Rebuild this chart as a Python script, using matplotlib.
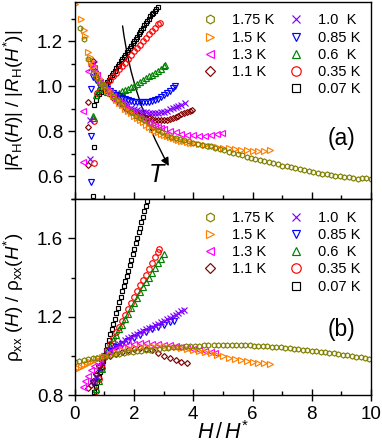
import matplotlib
matplotlib.use("Agg")
import matplotlib.pyplot as plt
from matplotlib.patches import FancyArrowPatch
from matplotlib.ticker import MultipleLocator

plt.rcParams['font.family'] = ['Liberation Sans', 'DejaVu Sans']
plt.rcParams['mathtext.fontset'] = 'custom'
plt.rcParams['mathtext.rm'] = 'Liberation Sans'
plt.rcParams['mathtext.it'] = 'Liberation Sans:italic'
plt.rcParams['mathtext.bf'] = 'Liberation Sans:bold'

# temperature labels (legend order)
temps = ['1.75 K', '1.5 K', '1.3 K', '1.1 K', '1.0  K', '0.85 K', '0.6  K', '0.35 K', '0.07 K']

# ---- panel (a): |R_H(H)| / |R_H(H*)| ----
a_175_x = [0.17, 0.3, 0.45, 0.6, 0.7, 0.8, 0.9, 1.0, 1.15, 1.3, 1.45, 1.6, 1.75, 1.9, 2.05, 2.2, 2.35, 2.5,
           2.65, 2.8, 2.95, 3.1, 3.25, 3.4, 3.55, 3.7, 3.85, 4.0, 4.15, 4.3, 4.45, 4.6, 4.75, 4.9, 5.05, 5.2,
           5.35, 5.5, 5.65, 5.8, 5.95, 6.1, 6.25, 6.4, 6.55, 6.7, 6.85, 7.0, 7.15, 7.3, 7.45, 7.6, 7.75, 7.9,
           8.05, 8.2, 8.35, 8.5, 8.65, 8.8, 8.95, 9.1, 9.25, 9.4, 9.55, 9.7, 9.85, 10.0]
a_175_y = [1.26, 1.21, 1.12, 1.06, 1.04, 1.02, 1.01, 1.0, 0.98, 0.955, 0.94, 0.92, 0.9, 0.885, 0.87, 0.86, 0.85, 0.835,
           0.82, 0.805, 0.795, 0.785, 0.775, 0.77, 0.765, 0.76, 0.755, 0.75, 0.745, 0.74, 0.737, 0.733, 0.728, 0.722, 0.716, 0.71,
           0.705, 0.70, 0.695, 0.688, 0.682, 0.677, 0.672, 0.667, 0.663, 0.658, 0.653, 0.648, 0.644, 0.64, 0.636, 0.632, 0.628, 0.624,
           0.62, 0.616, 0.612, 0.609, 0.606, 0.603, 0.60, 0.598, 0.596, 0.594, 0.59, 0.593, 0.592, 0.59]

a_15_x = [0.0, 0.22, 0.3, 0.35, 0.45, 0.5, 0.55, 0.6, 0.7, 0.8, 0.9, 1.0, 1.1, 1.2, 1.3, 1.4, 1.5, 1.6, 1.7, 1.8,
          1.9, 2.0, 2.1, 2.2, 2.3, 2.4, 2.5, 2.6, 2.7, 2.8, 2.9, 3.0, 3.1, 3.2, 3.3, 3.4, 3.5, 3.6, 3.7, 3.8,
          3.9, 4.0, 4.2, 4.4, 4.6, 4.8, 5.0, 5.2, 5.4, 5.6, 5.8, 6.0, 6.2, 6.4, 6.6]
a_15_y = [1.365, 1.30, 1.25, 1.225, 1.15, 1.13, 1.11, 1.09, 1.06, 1.035, 1.015, 1.0, 0.985, 0.97, 0.955, 0.94, 0.925, 0.915, 0.90, 0.89,
          0.88, 0.87, 0.86, 0.85, 0.84, 0.83, 0.82, 0.81, 0.80, 0.795, 0.79, 0.785, 0.78, 0.775, 0.77, 0.765, 0.762, 0.758, 0.755, 0.752,
          0.75, 0.748, 0.744, 0.74, 0.736, 0.732, 0.728, 0.724, 0.72, 0.718, 0.716, 0.714, 0.712, 0.713, 0.716]

a_13_x = [0.27, 0.27, 0.45, 0.55, 0.65, 0.75, 0.85, 1.0, 1.1, 1.2, 1.3, 1.4, 1.5, 1.6, 1.7, 1.8, 1.9, 2.0, 2.1, 2.2,
          2.3, 2.4, 2.5, 2.6, 2.7, 2.8, 2.9, 3.0, 3.2, 3.4, 3.6, 3.8, 4.0, 4.2, 4.4, 4.6, 4.8, 4.97]
a_13_y = [0.665, 0.89, 1.07, 1.10, 1.08, 1.05, 1.02, 1.0, 0.985, 0.97, 0.955, 0.94, 0.93, 0.92, 0.905, 0.895, 0.885, 0.875, 0.865, 0.86,
          0.85, 0.845, 0.835, 0.83, 0.825, 0.82, 0.815, 0.81, 0.80, 0.795, 0.79, 0.785, 0.782, 0.78, 0.78, 0.782, 0.786, 0.792]

a_11_x = [0.45, 0.45, 0.44, 0.6, 0.68, 0.75, 0.85, 1.0, 1.1, 1.2, 1.3, 1.4, 1.5, 1.6, 1.7, 1.8, 1.9, 2.0, 2.1, 2.2,
          2.3, 2.4, 2.5, 2.6, 2.7, 2.8, 2.9, 3.0, 3.1, 3.2, 3.3, 3.4, 3.5, 3.6, 3.7, 3.8, 3.9, 3.95]
a_11_y = [0.65, 0.82, 0.93, 1.11, 1.07, 1.04, 1.02, 1.0, 0.98, 0.965, 0.95, 0.94, 0.925, 0.915, 0.905, 0.895, 0.885, 0.88, 0.875, 0.87,
          0.865, 0.86, 0.857, 0.855, 0.852, 0.85, 0.85, 0.85, 0.852, 0.855, 0.86, 0.865, 0.87, 0.875, 0.88, 0.885, 0.89, 0.893]

a_10_x = [0.5, 0.5, 0.55, 0.65, 0.75, 0.85, 1.0, 1.1, 1.2, 1.3, 1.4, 1.5, 1.6, 1.7, 1.8, 1.9, 2.0, 2.1, 2.2, 2.3,
          2.4, 2.5, 2.6, 2.7, 2.8, 2.9, 3.0, 3.1, 3.2, 3.3, 3.4, 3.5, 3.6, 3.72]
a_10_y = [0.675, 0.85, 1.08, 1.10, 1.05, 1.02, 1.0, 0.985, 0.97, 0.96, 0.95, 0.94, 0.93, 0.92, 0.915, 0.905, 0.90, 0.895, 0.89, 0.887,
          0.885, 0.882, 0.88, 0.88, 0.882, 0.885, 0.888, 0.892, 0.897, 0.902, 0.907, 0.912, 0.918, 0.925]

a_085_x = [0.54, 0.54, 0.55, 0.6, 0.7, 0.8, 0.9, 1.0, 1.1, 1.2, 1.3, 1.4, 1.5, 1.6, 1.7, 1.8, 1.9, 2.0, 2.1, 2.2,
           2.3, 2.4, 2.5, 2.6, 2.7, 2.8, 2.9, 3.0, 3.1, 3.2, 3.3, 3.37]
a_085_y = [0.575, 0.78, 0.99, 1.04, 1.03, 1.01, 1.0, 1.0, 0.99, 0.98, 0.97, 0.962, 0.955, 0.95, 0.945, 0.94, 0.935, 0.932, 0.93, 0.93,
           0.93, 0.93, 0.932, 0.935, 0.94, 0.945, 0.952, 0.96, 0.97, 0.98, 0.992, 1.0]

a_06_x = [0.6, 0.62, 0.7, 0.8, 0.9, 1.0, 1.1, 1.2, 1.3, 1.4, 1.5, 1.6, 1.7, 1.8, 1.9, 2.0, 2.1, 2.2, 2.3, 2.4,
          2.5, 2.6, 2.7, 2.8, 2.9, 3.0, 3.04]
a_06_y = [0.86, 0.87, 0.96, 0.99, 1.0, 1.0, 0.975, 0.968, 0.965, 0.967, 0.972, 0.978, 0.985, 0.99, 0.995, 1.002, 1.01, 1.018, 1.026, 1.035,
          1.045, 1.052, 1.06, 1.068, 1.078, 1.09, 1.095]

a_035_x = [0.63, 0.63, 0.75, 0.85, 1.0, 1.1, 1.2, 1.3, 1.4, 1.5, 1.6, 1.7, 1.8, 1.9, 2.0, 2.1, 2.2, 2.3, 2.4, 2.5,
           2.6, 2.7, 2.8, 2.87]
a_035_y = [0.66, 0.845, 0.97, 0.99, 1.0, 1.01, 1.03, 1.045, 1.06, 1.075, 1.09, 1.105, 1.12, 1.14, 1.155, 1.17, 1.185, 1.20, 1.215, 1.23,
           1.245, 1.26, 1.275, 1.28]

a_007_x = [0.61, 0.64, 0.64, 0.7, 0.76, 0.82, 0.88, 0.94, 1.0, 1.05, 1.1, 1.15, 1.2, 1.25, 1.3, 1.35, 1.4, 1.45, 1.5, 1.55,
           1.6, 1.65, 1.7, 1.75, 1.8, 1.85, 1.9, 1.95, 2.0, 2.05, 2.1, 2.15, 2.2, 2.25, 2.3, 2.35, 2.4, 2.45, 2.5, 2.55,
           2.6, 2.65, 2.7, 2.75, 2.8]
a_007_y = [0.515, 0.73, 0.915, 0.94, 0.955, 0.965, 0.975, 0.99, 1.0, 1.01, 1.02, 1.03, 1.04, 1.05, 1.06, 1.07, 1.08, 1.09, 1.10, 1.11,
           1.12, 1.13, 1.14, 1.15, 1.16, 1.17, 1.18, 1.19, 1.20, 1.21, 1.22, 1.23, 1.24, 1.25, 1.26, 1.27, 1.28, 1.29, 1.30, 1.31,
           1.32, 1.327, 1.335, 1.342, 1.35]

# ---- panel (b): rho_xx(H) / rho_xx(H*) ----
b_175_x = [0.0, 0.15, 0.3, 0.45, 0.6, 0.75, 0.9, 1.05, 1.2, 1.35, 1.5, 1.65, 1.8, 1.95, 2.1, 2.25, 2.4, 2.55, 2.7, 2.85,
           3.0, 3.15, 3.3, 3.45, 3.6, 3.75, 3.9, 4.05, 4.2, 4.35, 4.5, 4.7, 4.85, 5.0, 5.15, 5.3, 5.45, 5.6, 5.75, 5.9,
           6.05, 6.2, 6.35, 6.5, 6.65, 6.8, 6.95, 7.1, 7.25, 7.4, 7.55, 7.7, 7.85, 8.0, 8.15, 8.3, 8.45, 8.6, 8.75, 8.9,
           9.05, 9.2, 9.35, 9.5, 9.65, 9.8, 9.95]
b_175_y = [0.97, 0.975, 0.98, 0.984, 0.988, 0.992, 0.996, 1.001, 1.005, 1.009, 1.012, 1.015, 1.018, 1.021, 1.024, 1.027, 1.03, 1.032, 1.035, 1.037,
           1.04, 1.042, 1.044, 1.046, 1.048, 1.05, 1.051, 1.052, 1.053, 1.054, 1.055, 1.056, 1.057, 1.057, 1.057, 1.057, 1.057, 1.056, 1.055, 1.054,
           1.053, 1.052, 1.051, 1.05, 1.048, 1.046, 1.044, 1.042, 1.039, 1.037, 1.035, 1.032, 1.03, 1.027, 1.025, 1.022, 1.019, 1.016, 1.013, 1.01,
           1.007, 1.004, 1.0, 0.997, 0.993, 0.989, 0.986]

b_15_x = [0.0, 0.1, 0.2, 0.3, 0.4, 0.5, 0.6, 0.7, 0.8, 0.9, 1.0, 1.2, 1.4, 1.6, 1.8, 2.0, 2.2, 2.4, 2.6, 2.8,
          3.0, 3.2, 3.4, 3.6, 3.8, 4.0, 4.2, 4.4, 4.6, 4.8, 5.0, 5.2, 5.4, 5.6, 5.8, 6.0, 6.2, 6.4, 6.6]
b_15_y = [0.93, 0.937, 0.945, 0.952, 0.96, 0.967, 0.975, 0.982, 0.99, 0.995, 1.0, 1.01, 1.02, 1.028, 1.035, 1.04, 1.045, 1.048, 1.05, 1.05,
          1.05, 1.048, 1.045, 1.04, 1.035, 1.03, 1.025, 1.02, 1.013, 1.005, 0.998, 0.992, 0.986, 0.98, 0.975, 0.97, 0.966, 0.963, 0.96]

b_13_x = [0.27, 0.35, 0.45, 0.55, 0.65, 0.75, 0.85, 1.0, 1.2, 1.4, 1.6, 1.8, 2.0, 2.2, 2.4, 2.6, 2.8, 3.0, 3.2, 3.4,
          3.6, 3.8, 4.0, 4.2, 4.4, 4.6, 4.73]
b_13_y = [0.84, 0.87, 0.90, 0.93, 0.95, 0.97, 0.985, 1.0, 1.02, 1.035, 1.045, 1.055, 1.06, 1.065, 1.065, 1.063, 1.06, 1.057, 1.055, 1.05,
          1.045, 1.04, 1.035, 1.03, 1.025, 1.02, 1.015]

b_11_x = [0.45, 0.55, 0.6, 0.7, 0.8, 0.9, 1.0, 1.2, 1.4, 1.6, 1.8, 2.0, 2.2, 2.4, 2.6, 2.8, 3.0, 3.2, 3.4, 3.6,
          3.8]
b_11_y = [0.835, 0.85, 0.87, 0.91, 0.95, 0.975, 0.99, 1.0, 1.01, 1.02, 1.03, 1.035, 1.04, 1.035, 1.03, 1.015, 1.0, 0.99, 0.98, 0.97,
          0.963]

b_10_x = [0.6, 0.7, 0.8, 0.9, 1.0, 1.1, 1.2, 1.3, 1.4, 1.5, 1.6, 1.7, 1.8, 1.9, 2.0, 2.1, 2.2, 2.3, 2.4, 2.5,
          2.6, 2.7, 2.8, 2.9, 3.0, 3.1, 3.2, 3.3, 3.4, 3.5, 3.6, 3.7]
b_10_y = [0.87, 0.9, 0.94, 0.97, 1.0, 1.015, 1.03, 1.04, 1.05, 1.06, 1.07, 1.08, 1.09, 1.097, 1.105, 1.112, 1.12, 1.127, 1.135, 1.142,
          1.15, 1.157, 1.165, 1.172, 1.18, 1.187, 1.195, 1.202, 1.21, 1.219, 1.228, 1.235]

b_085_x = [0.6, 0.7, 0.8, 0.9, 1.0, 1.2, 1.4, 1.6, 1.8, 2.0, 2.2, 2.4, 2.6, 2.8, 3.0, 3.2, 3.35]
b_085_y = [0.86, 0.9, 0.94, 0.97, 1.0, 1.025, 1.045, 1.062, 1.078, 1.092, 1.105, 1.12, 1.135, 1.148, 1.16, 1.172, 1.18]

b_06_x = [0.7, 0.8, 0.9, 1.0, 1.1, 1.2, 1.3, 1.4, 1.5, 1.6, 1.7, 1.8, 1.9, 2.0, 2.1, 2.2, 2.3, 2.4, 2.5, 2.6,
          2.7, 2.8, 2.9, 3.0]
b_06_y = [0.83, 0.87, 0.935, 1.0, 1.025, 1.05, 1.08, 1.105, 1.135, 1.16, 1.19, 1.215, 1.245, 1.27, 1.297, 1.324, 1.35, 1.376, 1.40, 1.425,
          1.45, 1.473, 1.497, 1.52]

b_035_x = [0.7, 0.8, 0.9, 1.0, 1.1, 1.2, 1.3, 1.4, 1.5, 1.6, 1.7, 1.8, 1.9, 2.0, 2.1, 2.2, 2.3, 2.4, 2.5, 2.6,
           2.7, 2.8, 2.85]
b_035_y = [0.82, 0.88, 0.94, 1.0, 1.03, 1.06, 1.09, 1.12, 1.15, 1.18, 1.21, 1.24, 1.27, 1.30, 1.33, 1.36, 1.385, 1.415, 1.445, 1.475,
           1.505, 1.53, 1.545]

b_007_x = [0.65, 0.7, 0.75, 0.8, 0.85, 0.9, 0.95, 1.0, 1.05, 1.1, 1.15, 1.2, 1.25, 1.3, 1.35, 1.4, 1.45, 1.5, 1.55, 1.6,
           1.65, 1.7, 1.75, 1.8, 1.85, 1.9, 1.95, 2.0, 2.05, 2.1, 2.15, 2.2, 2.25, 2.3, 2.35, 2.4, 2.45, 2.5]
b_007_y = [0.815, 0.84, 0.865, 0.89, 0.92, 0.945, 0.975, 1.0, 1.03, 1.055, 1.08, 1.11, 1.135, 1.165, 1.19, 1.22, 1.245, 1.275, 1.30, 1.33,
           1.355, 1.38, 1.41, 1.435, 1.465, 1.49, 1.52, 1.545, 1.575, 1.60, 1.63, 1.655, 1.685, 1.71, 1.74, 1.765, 1.79, 1.82]

colors = ['#808000', '#FF8000', '#FF00FF', '#800000', '#8000FF', '#0000FF', '#008000', '#FF0000', '#000000']
markers = ['h', '>', '<', 'D', 'x', 'v', '^', 'o', 's']
sizes = [3.7, 3.7, 3.7, 3.0, 3.7, 3.7, 3.7, 4.0, 3.4]

series_a = [(a_175_x, a_175_y), (a_15_x, a_15_y), (a_13_x, a_13_y), (a_11_x, a_11_y), (a_10_x, a_10_y),
            (a_085_x, a_085_y), (a_06_x, a_06_y), (a_035_x, a_035_y), (a_007_x, a_007_y)]
series_b = [(b_175_x, b_175_y), (b_15_x, b_15_y), (b_13_x, b_13_y), (b_11_x, b_11_y), (b_10_x, b_10_y),
            (b_085_x, b_085_y), (b_06_x, b_06_y), (b_035_x, b_035_y), (b_007_x, b_007_y)]


def draw_panel(ax, series):
    handles = [None] * len(series)
    # coldest first, so the high temperature data end up on top
    for i in reversed(range(len(series))):
        x, y = series[i]
        h, = ax.plot(x, y, linestyle='none', marker=markers[i], markersize=sizes[i],
                     markerfacecolor='none', markeredgecolor=colors[i], markeredgewidth=0.85,
                     color=colors[i], label=temps[i])
        handles[i] = h
    # blank entry so the first legend column holds 4 rows
    blank, = ax.plot([], [], linestyle='none', marker='none', label=' ')
    hh = handles[:4] + [blank] + handles[4:]
    ax.legend(handles=hh, labels=[h.get_label() for h in hh], ncol=2, frameon=False,
              loc='upper right', bbox_to_anchor=(0.995, 0.985), fontsize=10.5,
              handlelength=1.0, handletextpad=1.0, columnspacing=1.0, labelspacing=0.22,
              markerscale=1.7, borderaxespad=0.2)
    ax.set_xlim(0, 10)
    ax.xaxis.set_major_locator(MultipleLocator(2))
    ax.xaxis.set_minor_locator(MultipleLocator(1))
    for s in ax.spines.values():
        s.set_linewidth(1.0)
    ax.tick_params(axis='y', which='major', direction='out', length=5, width=1, labelsize=13.5)
    ax.tick_params(axis='y', which='minor', direction='out', length=3, width=1)
    ax.tick_params(axis='x', which='major', width=1, labelsize=13.5)


fig = plt.figure(figsize=(3.82, 4.48), dpi=100)
ax_a = fig.add_axes([0.196, 0.556, 0.775, 0.44])
ax_b = fig.add_axes([0.196, 0.118, 0.775, 0.4375])

draw_panel(ax_a, series_a)
ax_a.set_ylim(0.5, 1.375)
ax_a.yaxis.set_major_locator(MultipleLocator(0.2))
ax_a.yaxis.set_minor_locator(MultipleLocator(0.1))
ax_a.tick_params(axis='x', which='major', direction='in', length=5, labelbottom=False)
ax_a.tick_params(axis='x', which='minor', direction='in', length=3, width=1)
ax_a.set_ylabel(r'$|R_{\rm H}(H)|\ /\ |R_{\rm H}(H^{*})|$', fontsize=13.5)
ax_a.yaxis.set_label_coords(-0.165, 0.5)
ax_a.text(8.99, 0.77, '(a)', fontsize=16.5, ha='center', va='center')

# temperature arrow
arr = FancyArrowPatch((1.6, 1.28), (3.22, 0.635), connectionstyle='arc3,rad=0.1',
                      arrowstyle='-|>', mutation_scale=12, lw=1.0, color='black')
ax_a.add_patch(arr)
ax_a.text(2.77, 0.605, r'$T$', fontsize=18, ha='center', va='center')

draw_panel(ax_b, series_b)
ax_b.set_ylim(0.8, 1.8)
ax_b.yaxis.set_major_locator(MultipleLocator(0.4))
ax_b.yaxis.set_minor_locator(MultipleLocator(0.2))
ax_b.tick_params(axis='x', which='major', direction='inout', length=9, pad=3)
ax_b.tick_params(axis='x', which='minor', direction='in', length=3, width=1)
ax_b.set_ylabel('ρ$_{\\rm xx}$ ($H$) / ρ$_{\\rm xx}$($H^{*}$)', fontsize=13.5)
ax_b.yaxis.set_label_coords(-0.165, 0.5)
ax_b.set_xlabel(r'$H\,/\,H^{*}$', fontsize=15.5, labelpad=-1)
ax_b.text(8.99, 1.137, '(b)', fontsize=16.5, ha='center', va='center')

fig.savefig('out.png', dpi=100)
